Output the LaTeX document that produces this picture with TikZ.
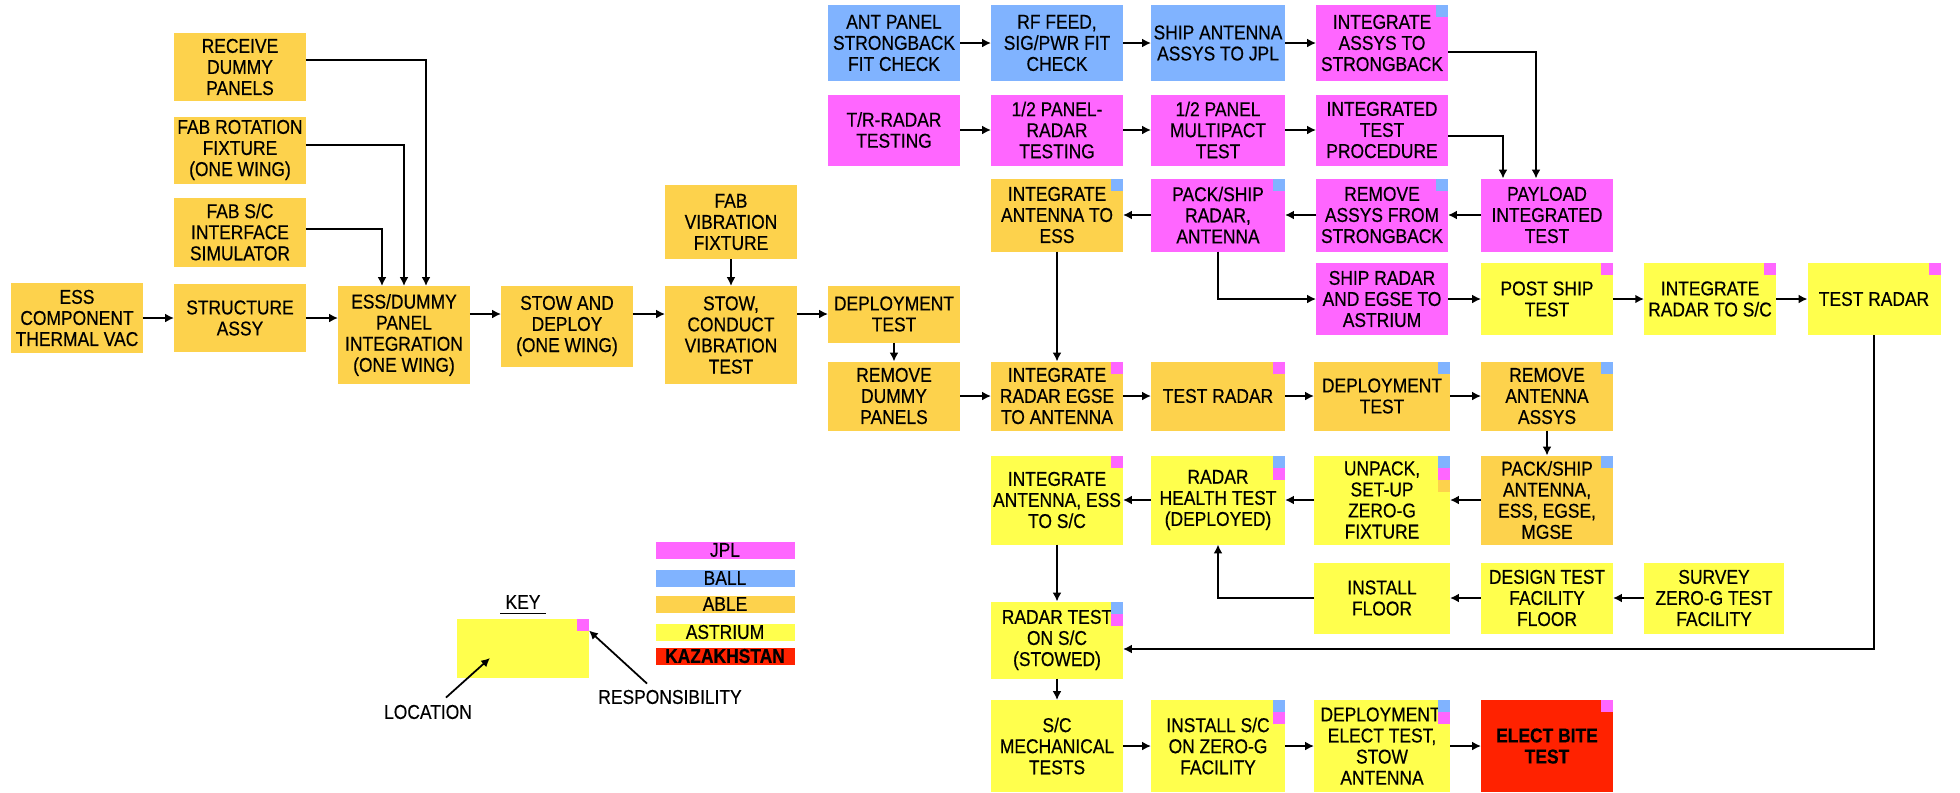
\documentclass[tikz,border=0pt]{standalone}
\usepackage{fontspec}
\setmainfont{Liberation Sans}[FakeStretch=0.87,FakeBold=0.4]
\usepackage{tikz}
\usetikzlibrary{calc,arrows.meta}
\definecolor{jpl}{HTML}{FF66FF}
\definecolor{ball}{HTML}{80B3FF}
\definecolor{able}{HTML}{FDD24C}
\definecolor{astrium}{HTML}{FFFF4D}
\definecolor{kaz}{HTML}{FF2200}
\newcommand{\respsq}[3]{\fill[#3] ($(#1.north east)+(-12,12*#2)$) rectangle ++(12,12);}

\begin{document}
\begin{tikzpicture}[x=0.02cm,y=-0.02cm,
  box/.style={minimum width=2.64cm,align=center,inner sep=0pt,outer sep=0pt,font=\fontsize{11.4}{12}\selectfont},
  ablebox/.style={box,fill=able},
  ballbox/.style={box,fill=ball},
  jplbox/.style={box,fill=jpl},
  astbox/.style={box,fill=astrium},
  kazbox/.style={box,fill=kaz},
  ht/.style={minimum height=#1*0.02cm},
  wd/.style={minimum width=#1*0.02cm},
  txt/.style={inner sep=0pt,font=\fontsize{11.4}{12}\selectfont},
  arr/.style={-{Latex[length=5pt,width=5pt]},line width=1pt}]
\fill[white] (0,0) rectangle (1960,792);
\useasboundingbox (0,0) rectangle (1960,792);

\node[ablebox,ht=70] (ess) at (77,318) {ESS\\COMPONENT\\THERMAL VAC};
\node[ablebox,ht=68] (struct) at (240,318) {STRUCTURE\\ASSY};
\node[ablebox,ht=68] (recv) at (240,67) {RECEIVE\\DUMMY\\PANELS};
\node[ablebox,ht=67] (fabrot) at (240,150) {FAB ROTATION\\FIXTURE\\(ONE WING)};
\node[ablebox,ht=69] (fabsc) at (240,232) {FAB S/C\\INTERFACE\\SIMULATOR};
\node[ablebox,ht=98] (integ) at (404,335) {ESS/DUMMY\\PANEL\\INTEGRATION\\(ONE WING)};
\node[ablebox,ht=81] (stow) at (567,326) {STOW AND\\DEPLOY\\(ONE WING)};
\node[ablebox,ht=74] (fabvib) at (731,222) {FAB\\VIBRATION\\FIXTURE};
\node[ablebox,ht=98] (vibtest) at (731,335) {STOW,\\CONDUCT\\VIBRATION\\TEST};
\node[ablebox,ht=57] (deptest) at (894,314) {DEPLOYMENT\\TEST};
\node[ablebox,ht=69] (rmdummy) at (894,396) {REMOVE\\DUMMY\\PANELS};

\node[ballbox,ht=76] (antpanel) at (894,43) {ANT PANEL\\STRONGBACK\\FIT CHECK};
\node[ballbox,ht=76] (rffeed) at (1057,43) {RF FEED,\\SIG/PWR FIT\\CHECK};
\node[ballbox,ht=76,wd=134] (shipant) at (1218,43) {SHIP ANTENNA\\ASSYS TO JPL};
\node[jplbox,ht=76] (intassys) at (1382,43) {INTEGRATE\\ASSYS TO\\STRONGBACK};
\node[jplbox,ht=71] (trradar) at (894,130) {T/R-RADAR\\TESTING};
\node[jplbox,ht=71] (halfradar) at (1057,130) {1/2 PANEL-\\RADAR\\TESTING};
\node[jplbox,ht=71,wd=134] (multipact) at (1218,130) {1/2 PANEL\\MULTIPACT\\TEST};
\node[jplbox,ht=71] (itp) at (1382,130) {INTEGRATED\\TEST\\PROCEDURE};
\node[ablebox,ht=73] (intantess) at (1057,215) {INTEGRATE\\ANTENNA TO\\ESS};
\node[jplbox,ht=73,wd=134] (packradar) at (1218,215) {PACK/SHIP\\RADAR,\\ANTENNA};
\node[jplbox,ht=73] (rmassys) at (1382,215) {REMOVE\\ASSYS FROM\\STRONGBACK};
\node[jplbox,ht=73] (payload) at (1547,215) {PAYLOAD\\INTEGRATED\\TEST};
\node[jplbox,ht=72] (shipradar) at (1382,299) {SHIP RADAR\\AND EGSE TO\\ASTRIUM};
\node[astbox,ht=72] (postship) at (1547,299) {POST SHIP\\TEST};
\node[astbox,ht=72] (intradarsc) at (1710,299) {INTEGRATE\\RADAR TO S/C};
\node[astbox,ht=72,wd=133] (testradartop) at (1874,299) {TEST RADAR};

\node[ablebox,ht=69] (integse) at (1057,396) {INTEGRATE\\RADAR EGSE\\TO ANTENNA};
\node[ablebox,ht=69,wd=134] (testradar) at (1218,396) {TEST RADAR};
\node[ablebox,ht=69,wd=136] (deptest2) at (1382,396) {DEPLOYMENT\\TEST};
\node[ablebox,ht=69] (rmant) at (1547,396) {REMOVE\\ANTENNA\\ASSYS};
\node[ablebox,ht=89] (packant) at (1547,500) {PACK/SHIP\\ANTENNA,\\ESS, EGSE,\\MGSE};
\node[astbox,ht=89,wd=136] (unpack) at (1382,500) {UNPACK,\\SET-UP\\ZERO-G\\FIXTURE};
\node[astbox,ht=89,wd=134] (health) at (1218,500) {RADAR\\HEALTH TEST\\(DEPLOYED)};
\node[astbox,ht=89] (intantsc) at (1057,500) {INTEGRATE\\ANTENNA, ESS\\TO S/C};
\node[astbox,ht=71,wd=136] (floor) at (1382,598) {INSTALL\\FLOOR};
\node[astbox,ht=71] (design) at (1547,598) {DESIGN TEST\\FACILITY\\FLOOR};
\node[astbox,ht=71,wd=140] (survey) at (1714,598) {SURVEY\\ZERO-G TEST\\FACILITY};
\node[astbox,ht=77] (radarsc) at (1057,640) {RADAR TEST\\ON S/C\\(STOWED)};
\node[astbox,ht=92] (scmech) at (1057,746) {S/C\\MECHANICAL\\TESTS};
\node[astbox,ht=92,wd=134] (installsc) at (1218,746) {INSTALL S/C\\ON ZERO-G\\FACILITY};
\node[astbox,ht=92,wd=136] (depelect) at (1382,746) {DEPLOYMENT,\\ELECT TEST,\\STOW\\ANTENNA};
\node[kazbox,ht=92,font=\fontsize{11.4}{12}\selectfont\bfseries] (bite) at (1547,746) {ELECT BITE\\TEST};

\respsq{intassys}{0}{ball}
\respsq{intantess}{0}{ball}
\respsq{packradar}{0}{ball}
\respsq{rmassys}{0}{ball}
\respsq{postship}{0}{jpl}
\respsq{intradarsc}{0}{jpl}
\respsq{testradartop}{0}{jpl}
\respsq{integse}{0}{jpl}
\respsq{testradar}{0}{jpl}
\respsq{deptest2}{0}{ball}
\respsq{rmant}{0}{ball}
\respsq{packant}{0}{ball}
\respsq{unpack}{0}{ball}
\respsq{unpack}{1}{jpl}
\respsq{unpack}{2}{able}
\respsq{health}{0}{ball}
\respsq{health}{1}{jpl}
\respsq{intantsc}{0}{jpl}
\respsq{radarsc}{0}{ball}
\respsq{radarsc}{1}{jpl}
\respsq{installsc}{0}{ball}
\respsq{installsc}{1}{jpl}
\respsq{depelect}{0}{ball}
\respsq{depelect}{1}{jpl}
\respsq{bite}{0}{jpl}

\draw[arr] (ess.east) -- (struct.west);
\draw[arr] (struct.east) -- (struct.east -| integ.west);
\draw[arr] (recv.east |- 0,60) -| ($(integ.north)+(22,0)$);
\draw[arr] (fabrot.east |- 0,145) -| (integ.north);
\draw[arr] (fabsc.east |- 0,229) -| ($(integ.north)+(-22,0)$);
\draw[arr] (integ.east |- 0,314) -- (stow.west |- 0,314);
\draw[arr] (stow.east |- 0,314) -- (vibtest.west |- 0,314);
\draw[arr] (fabvib.south) -- (vibtest.north);
\draw[arr] (vibtest.east |- 0,314) -- (deptest.west);
\draw[arr] (deptest.south) -- (rmdummy.north);
\draw[arr] (rmdummy.east) -- (integse.west);

\draw[arr] (antpanel.east) -- (rffeed.west);
\draw[arr] (rffeed.east) -- (shipant.west);
\draw[arr] (shipant.east) -- (intassys.west);
\draw[arr] (trradar.east) -- (halfradar.west);
\draw[arr] (halfradar.east) -- (multipact.west);
\draw[arr] (multipact.east) -- (itp.west);
\draw[arr] (intassys.east |- 0,52) -| ($(payload.north)+(-11,0)$);
\draw[arr] (itp.east |- 0,136) -| ($(payload.north)+(-44,0)$);
\draw[arr] (payload.west) -- (rmassys.east);
\draw[arr] (rmassys.west) -- (packradar.east);
\draw[arr] (packradar.west) -- (intantess.east);
\draw[arr] (intantess.south) -- (integse.north);
\draw[arr] (packradar.south) |- (shipradar.west);
\draw[arr] (shipradar.east) -- (postship.west);
\draw[arr] (postship.east) -- (intradarsc.west);
\draw[arr] (intradarsc.east) -- (testradartop.west);
\draw[arr] (testradartop.south) |- ($(radarsc.east)+(0,9)$);

\draw[arr] (integse.east) -- (testradar.west);
\draw[arr] (testradar.east) -- (deptest2.west);
\draw[arr] (deptest2.east) -- (rmant.west);
\draw[arr] (rmant.south) -- (packant.north);
\draw[arr] (packant.west) -- (unpack.east);
\draw[arr] (unpack.west) -- (health.east);
\draw[arr] (health.west) -- (intantsc.east);
\draw[arr] (intantsc.south) -- (radarsc.north);
\draw[arr] (survey.west) -- (design.east);
\draw[arr] (design.west) -- (floor.east);
\draw[arr] (floor.west) -| (health.south);
\draw[arr] (radarsc.south) -- (scmech.north);
\draw[arr] (scmech.east) -- (installsc.west);
\draw[arr] (installsc.east) -- (depelect.west);
\draw[arr] (depelect.east) -- (bite.west);

\node[txt] (keylbl) at (523,602) {KEY};
\draw[line width=0.8pt] ($(keylbl.south west)+(-5,4)$) -- ($(keylbl.south east)+(5,4)$);
\node[astbox,wd=132,ht=59] (keybox) at (523,648) {};
\respsq{keybox}{0}{jpl}
\node[txt] (loctxt) at (428,712) {LOCATION};
\node[txt] (resptxt) at (670,697) {RESPONSIBILITY};
\draw[arr] ($(loctxt.north)+(18,-7)$) -- ($(keybox.center)+(-33,10)$);
\draw[arr] ($(resptxt.north)+(-23,-6)$) -- ($(keybox.north east)+(0,12)$);

\node[jplbox,wd=139,ht=17] (lgjpl) at (725,550) {JPL};
\node[ballbox,wd=139,ht=17] (lgball) at (725,578) {BALL};
\node[ablebox,wd=139,ht=17] (lgable) at (725,604) {ABLE};
\node[astbox,wd=139,ht=17] (lgast) at (725,632) {ASTRIUM};
\node[kazbox,wd=139,ht=17,font=\fontsize{11.4}{12}\selectfont\bfseries] (lgkaz) at (725,656) {KAZAKHSTAN};
\end{tikzpicture}
\end{document}
